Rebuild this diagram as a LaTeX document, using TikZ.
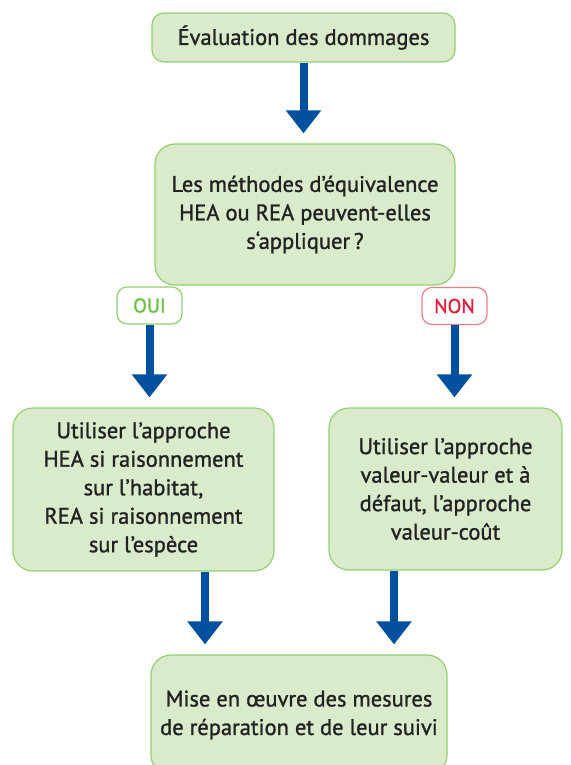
\documentclass[tikz,border=0pt]{standalone}
\usepackage{fontspec}
\setmainfont{PT Sans}
\newfontfamily\evfont[FakeBold=1.2]{PT Sans}
\usepackage{tikz}
\usetikzlibrary{
  arrows.meta,
  positioning,
  calc
}
\definecolor{evText}{HTML}{222222}
\definecolor{evFill}{HTML}{DAEBCB}
\definecolor{evLine}{HTML}{93CF72}
\definecolor{evArrow}{HTML}{0050A0}
\definecolor{evYes}{HTML}{6CBF3F}
\definecolor{evNo}{HTML}{E2203C}
\definecolor{evNoLine}{HTML}{EE7D8C}

\tikzset{
  stepbox/.style={draw=evLine, fill=evFill, line width=1.2pt, rounded corners=20pt,
    align=center, text=evText, inner sep=0pt,
    font=\evfont\fontsize{22.5}{28.5}\selectfont},
  answer/.style={fill=white, line width=1.2pt, rounded corners=10pt, inner sep=0pt,
    minimum width=65pt, minimum height=37pt, font=\evfont\fontsize{20}{22}\selectfont},
  flow/.style={draw=evArrow, line width=8pt, -{Triangle[width=34pt,length=23pt]},
    shorten >=10pt}
}

\begin{document}
\begin{tikzpicture}[x=1pt, y=-1pt]
  \useasboundingbox (0,0) rectangle (570,765);
  \clip (0,0) rectangle (570,765);

  % boxes
  \node[stepbox, rounded corners=12pt, minimum width=303pt, minimum height=49pt]
    (eval) at (303.5,37.5) {Évaluation des dommages};
  \node[stepbox, minimum width=300pt, minimum height=141pt]
    (quest) at (305,214.5) {Les méthodes d’équivalence\\HEA ou REA peuvent-elles\\s‘appliquer\,?};
  \node[answer, draw=evLine, text=evYes] (oui) at (149.5,305.5) {OUI};
  \node[answer, draw=evNoLine, text=evNo] (non) at (454.5,306) {NON};
  \node[stepbox, minimum width=261pt, minimum height=163pt]
    (hea) at (143.5,489.5) {Utiliser l’approche\\HEA si raisonnement\\sur l’habitat,\\REA si raisonnement\\sur l’espèce};
  \node[stepbox, minimum width=233pt, minimum height=162pt]
    (valeur) at (445.5,489) {Utiliser l’approche\\valeur-valeur et à\\défaut, l’approche\\valeur-coût};
  \node[stepbox, minimum width=296pt, minimum height=120pt]
    (suivi) at (299,715) {Mise en œuvre des mesures\\de réparation et de leur suivi};

  % arrows
  \draw[flow] (eval.south) -- (eval.south |- quest.north);
  \draw[flow] (oui.south) -- (oui.south |- hea.north);
  \draw[flow] (non.south) -- (non.south |- valeur.north);
  \draw[flow] ([xshift=61.5pt]hea.south) -- ([xshift=61.5pt]hea.south |- suivi.north);
  \draw[flow] ([xshift=-51.5pt]valeur.south) -- ([xshift=-51.5pt]valeur.south |- suivi.north);
\end{tikzpicture}
\end{document}
